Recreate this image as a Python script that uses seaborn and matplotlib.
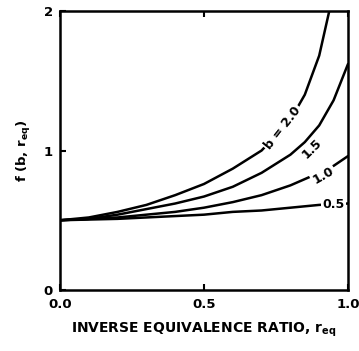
import matplotlib
matplotlib.use("Agg")
import matplotlib.pyplot as plt
import numpy as np
import pandas as pd
import seaborn as sns

# f(b, r_eq) curves, one per value of b
r_b20 = [0.0, 0.1, 0.2, 0.3, 0.4, 0.5, 0.6, 0.7, 0.8, 0.85, 0.9, 0.935]
f_b20 = [0.50, 0.52, 0.56, 0.61, 0.68, 0.76, 0.87, 1.00, 1.22, 1.40, 1.68, 2.00]

r_b15 = [0.0, 0.1, 0.2, 0.3, 0.4, 0.5, 0.6, 0.7, 0.8, 0.85, 0.9, 0.95, 1.0]
f_b15 = [0.50, 0.51, 0.54, 0.58, 0.62, 0.67, 0.74, 0.84, 0.97, 1.06, 1.18, 1.36, 1.62]

r_b10 = [0.0, 0.2, 0.4, 0.5, 0.6, 0.7, 0.8, 0.9, 0.95, 1.0]
f_b10 = [0.50, 0.52, 0.56, 0.59, 0.63, 0.68, 0.75, 0.84, 0.89, 0.96]

r_b05 = [0.0, 0.2, 0.4, 0.5, 0.6, 0.7, 0.8, 0.9, 1.0]
f_b05 = [0.50, 0.51, 0.53, 0.54, 0.56, 0.57, 0.59, 0.61, 0.62]

x_ticks = [0.0, 0.5, 1.0]
x_ticklabels = ["0.0", "0.5", "1.0"]
y_ticks = [0, 1, 2]
y_ticklabels = ["0", "1", "2"]

# curve labels: (text, r, f, angle)
curve_labels = [
    ("b = 2.0", 0.775, 1.16, 52),
    ("1.5", 0.875, 1.01, 45),
    ("1.0", 0.915, 0.82, 30),
    ("0.5", 0.95, 0.61, 0),
]

frames = []
for name, r, f in [("2.0", r_b20, f_b20), ("1.5", r_b15, f_b15),
                   ("1.0", r_b10, f_b10), ("0.5", r_b05, f_b05)]:
    frames.append(pd.DataFrame({"r": r, "f": f, "b": name}))
df = pd.concat(frames, ignore_index=True)

sns.set_style("ticks")
plt.rcParams["font.family"] = ["DejaVu Sans"]
plt.rcParams["font.weight"] = "bold"
for key in ["text.color", "axes.labelcolor", "xtick.color", "ytick.color",
            "axes.edgecolor"]:
    plt.rcParams[key] = "black"

fig = plt.figure(figsize=(3.59, 3.51), dpi=100)
ax = fig.add_axes([60 / 359, 1 - 290 / 351, 288 / 359, 279 / 351])

sns.lineplot(data=df, x="r", y="f", units="b", estimator=None, sort=False,
             color="black", linewidth=1.8, ax=ax, legend=False)

for text, r, f, ang in curve_labels:
    ax.text(r, f, text, rotation=ang, ha="center", va="center",
            fontsize=9, fontweight="heavy", rotation_mode="anchor",
            bbox=dict(facecolor="white", edgecolor="none", pad=1.2), zorder=5)

ax.set_xlim(0, 1.0)
ax.set_ylim(0, 2.0)
ax.set_xticks(x_ticks)
ax.set_xticklabels(x_ticklabels)
ax.set_yticks(y_ticks)
ax.set_yticklabels(y_ticklabels)
ax.tick_params(direction="in", length=4, width=1.5, labelsize=9.5,
               top=True, right=False)
ax.tick_params(axis="x", pad=6)
ax.tick_params(axis="y", pad=5)
for lab in ax.get_xticklabels() + ax.get_yticklabels():
    lab.set_fontweight("heavy")
for s in ax.spines.values():
    s.set_linewidth(1.8)
    s.set_visible(True)

ax.set_xlabel(r"INVERSE EQUIVALENCE RATIO, $\mathbf{r_{eq}}$",
              fontsize=10, fontweight="heavy", labelpad=7)
ax.set_ylabel(r"f (b, $\mathbf{r_{eq}}$)", fontsize=9.5, fontweight="heavy",
              labelpad=8)

fig.savefig("out.png", dpi=100)
